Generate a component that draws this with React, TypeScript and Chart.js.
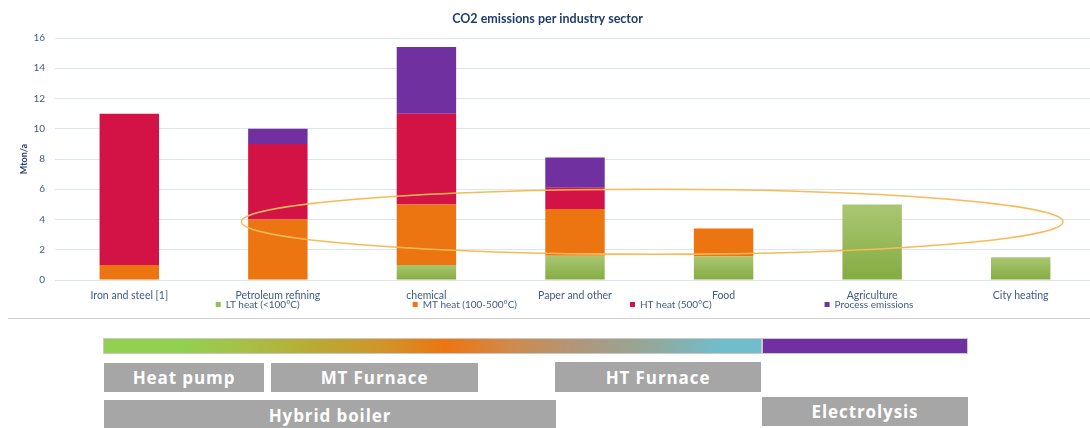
import React, { useEffect, useRef } from "react";
import { Chart, registerables } from "chart.js";

Chart.register(...registerables);

const CATEGORIES = [
  "Iron and steel [1]",
  "Petroleum refining",
  "chemical",
  "Paper and other",
  "Food",
  "Agriculture",
  "City heating",
];
const LT_HEAT = [0, 0, 1, 1.6, 1.55, 5, 1.5];
const MT_HEAT = [1, 4, 4, 3.1, 1.85, 0, 0];
const HT_HEAT = [10, 5, 6, 1.4, 0, 0, 0];
const PROCESS = [0, 1, 4.4, 2.0, 0, 0, 0];
const SERIES_NAMES = ["LT heat (<100°C)", "MT heat (100-500°C)", "HT heat (500°C)", "Process emissions"];
const Y_MIN = 0;
const Y_MAX = 16;
const Y_STEP = 2;
// highlighted ellipse, in data units: [center category index, center value, radius in categories, radius in value]
const ELLIPSE = [3.52, 3.85, 2.765, 2.15];

const TECH_BOXES = [
  { label: "Heat pump", left: 104, top: 363, width: 160, height: 29 },
  { label: "MT Furnace", left: 271, top: 363, width: 207, height: 29 },
  { label: "HT Furnace", left: 555, top: 362, width: 206, height: 30 },
  { label: "Hybrid boiler", left: 104, top: 400, width: 452, height: 30 },
  { label: "Electrolysis", left: 762, top: 397, width: 206, height: 29 },
];

const TEXT_BLUE = "#3f5b87";
const DARK_BLUE = "#1f3d6e";
const COLORS = ["#96bb58", "#ec7512", "#d31345", "#7030a0"];

const ellipsePlugin = {
  id: "ellipse",
  afterDatasetsDraw(chart: any) {
    const x = chart.scales.x;
    const y = chart.scales.y;
    const cx = x.getPixelForValue(ELLIPSE[0]);
    const cy = y.getPixelForValue(ELLIPSE[1]);
    const rx = x.getPixelForValue(ELLIPSE[0] + ELLIPSE[2]) - cx;
    const ry = y.getPixelForValue(ELLIPSE[1] - ELLIPSE[3]) - cy;
    const ctx = chart.ctx;
    ctx.save();
    ctx.beginPath();
    ctx.ellipse(cx, cy, Math.abs(rx), Math.abs(ry), 0, 0, Math.PI * 2);
    ctx.strokeStyle = "#f8ba55";
    ctx.lineWidth = 1.5;
    ctx.stroke();
    ctx.restore();
  },
};

const legendPlugin = {
  id: "customLegend",
  afterDraw(chart: any) {
    const ctx = chart.ctx;
    ctx.save();
    ctx.font = "10px Lato";
    const box = 5;
    const gapBox = 5;
    const gapItem = 113;
    const widths = chart.data.datasets.map((d: any) => ctx.measureText(d.label).width);
    let total = 0;
    widths.forEach((w: number, i: number) => {
      total += box + gapBox + w + (i < widths.length - 1 ? gapItem : 0);
    });
    const area = chart.chartArea;
    let xPos = (area.left + area.right) / 2 - 10.5 - total / 2;
    const yPos = 304.5;
    ctx.textBaseline = "middle";
    ctx.textAlign = "left";
    chart.data.datasets.forEach((d: any, i: number) => {
      ctx.fillStyle = COLORS[i];
      ctx.fillRect(xPos, yPos - 2.5, box, box);
      ctx.fillStyle = TEXT_BLUE;
      ctx.fillText(d.label, xPos + box + gapBox, yPos);
      xPos += box + gapBox + widths[i] + gapItem;
    });
    ctx.restore();
  },
};

function ltGradient(context: any) {
  const chart = context.chart;
  const yScale = chart.scales && chart.scales.y;
  if (!chart.chartArea || !yScale || context.dataIndex === undefined) return COLORS[0];
  const v = LT_HEAT[context.dataIndex] || 0;
  const top = yScale.getPixelForValue(v);
  const bottom = yScale.getPixelForValue(0);
  if (!isFinite(top) || !isFinite(bottom) || top === bottom) return COLORS[0];
  const g = chart.ctx.createLinearGradient(0, top, 0, bottom);
  g.addColorStop(0, "#a9c772");
  g.addColorStop(1, "#85ab42");
  return g;
}

export default function App() {
  const canvasRef = useRef<HTMLCanvasElement | null>(null);

  useEffect(() => {
    if (!canvasRef.current) return;
    const chart = new Chart(canvasRef.current, {
      type: "bar",
      data: {
        labels: CATEGORIES,
        datasets: [
          { label: SERIES_NAMES[0], data: LT_HEAT, backgroundColor: ltGradient as any },
          { label: SERIES_NAMES[1], data: MT_HEAT, backgroundColor: COLORS[1] },
          { label: SERIES_NAMES[2], data: HT_HEAT, backgroundColor: COLORS[2] },
          { label: SERIES_NAMES[3], data: PROCESS, backgroundColor: COLORS[3] },
        ],
      },
      options: {
        animation: false,
        responsive: false,
        devicePixelRatio: 1,
        barPercentage: 0.4,
        categoryPercentage: 1.0,
        layout: { padding: { left: 0, right: 15, top: 0, bottom: 0 } },
        font: { family: "Lato" },
        plugins: {
          legend: { display: false },
          tooltip: { enabled: false },
          title: {
            display: true,
            text: "CO2 emissions per industry sector",
            color: DARK_BLUE,
            font: { family: "Lato", size: 12.5, weight: "bold" },
            padding: { top: 11, bottom: 12 },
          },
        },
        scales: {
          x: {
            stacked: true,
            grid: { display: false },
            border: { display: false },
            ticks: { color: TEXT_BLUE, font: { family: "Lato", size: 10.5 }, padding: 1, maxRotation: 0, autoSkip: false },
            afterFit: (s: any) => {
              s.height = 35;
            },
          },
          y: {
            stacked: true,
            min: Y_MIN,
            max: Y_MAX,
            ticks: { stepSize: Y_STEP, color: TEXT_BLUE, font: { family: "Lato", size: 10 }, padding: 10 },
            grid: { color: "#dbe5f1", drawTicks: false, lineWidth: 1 },
            border: { display: false },
            title: {
              display: true,
              text: "Mton/a",
              color: DARK_BLUE,
              font: { family: "Lato", size: 9, weight: "bold" },
              padding: { top: 19, bottom: 0 },
            },
            afterFit: (s: any) => {
              s.width = 55;
            },
          },
        },
      } as any,
      plugins: [ellipsePlugin, legendPlugin],
    });
    return () => chart.destroy();
  }, []);

  return (
    <div
      style={{
        position: "fixed",
        left: 0,
        top: 0,
        width: 1090,
        height: 428,
        overflow: "hidden",
        background: "#ffffff",
      }}
    >
      <canvas
        ref={canvasRef}
        width={1110}
        height={315}
        style={{ position: "absolute", left: 0, top: 0, width: 1110, height: 315 }}
      />
      <div
        style={{
          position: "absolute",
          left: 8,
          top: 318,
          width: 1082,
          height: 0,
          borderTop: "1px solid #d2d2d2",
        }}
      />
      <div
        style={{
          position: "absolute",
          left: 103,
          top: 338,
          width: 659,
          height: 16,
          boxSizing: "border-box",
          border: "1px solid #c9c9c9",
          background:
            "linear-gradient(to right, #92d050 0%, #92d050 12%, #a8bf45 22%, #b9aa35 32%, #cf962a 42%, #ec7510 52%, #cf8a4c 62%, #b0967a 72%, #96a796 82%, #6fbdcd 94%, #6fbdcd 100%)",
        }}
      />
      <div
        style={{
          position: "absolute",
          left: 762,
          top: 338,
          width: 206,
          height: 16,
          boxSizing: "border-box",
          border: "1px solid #c9c9c9",
          background: "#7030a0",
        }}
      />
      {TECH_BOXES.map((b) => (
        <div
          key={b.label}
          style={{
            position: "absolute",
            left: b.left,
            top: b.top,
            width: b.width,
            height: b.height,
            background: "#a6a6a6",
            color: "#ffffff",
            fontFamily: "'Open Sans', sans-serif",
            fontWeight: 700,
            fontSize: 17,
            letterSpacing: 0.9,
            display: "flex",
            alignItems: "center",
            justifyContent: "center",
            lineHeight: 1,
          }}
        >
          {b.label}
        </div>
      ))}
    </div>
  );
}
